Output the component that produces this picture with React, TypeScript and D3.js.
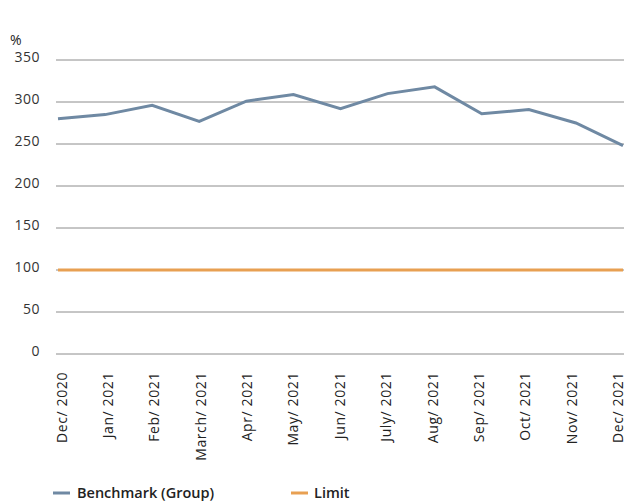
import React from 'react'
import * as d3 from 'd3'

const months = ['Dec/ 2020', 'Jan/ 2021', 'Feb/ 2021', 'March/ 2021', 'Apr/ 2021', 'May/ 2021', 'Jun/ 2021',
    'July/ 2021', 'Aug/ 2021', 'Sep/ 2021', 'Oct/ 2021', 'Nov/ 2021', 'Dec/ 2021']
const benchmark = [280, 285, 296, 277, 301, 309, 292, 310, 318, 286, 291, 275, 248]
const limit = [100, 100, 100, 100, 100, 100, 100, 100, 100, 100, 100, 100, 100]
const yTicks = [0, 50, 100, 150, 200, 250, 300, 350]

const width = 628
const height = 501
const font = '"Open Sans", sans-serif'

const App = () => {
    // points and labels sit on slightly different spacing in the original
    const x = d3.scalePoint<string>().domain(months).range([58, 623])
    const xLabel = d3.scalePoint<string>().domain(months).range([61.5, 618])
    const y = d3.scaleLinear().domain([0, 350]).range([354, 60])

    const line = d3.line<number>()
        .x((d, i) => x(months[i]) as number)
        .y(d => y(d))

    return (
        <svg width={width} height={height} style={{ position: 'absolute', left: 0, top: 0 }}>
            <text x={10} y={45} fontSize={14} fontFamily={font} fill="#222">%</text>
            {yTicks.map(t => (
                <g key={t}>
                    <line x1={56} x2={624} y1={y(t)} y2={y(t)} stroke="#8c8c8c" strokeWidth={1} />
                    <text x={40} y={y(t) + 2} textAnchor="end" fontSize={14} letterSpacing={0.5}
                          fontFamily={font} fill="#333">{t}</text>
                </g>
            ))}
            <path d={line(limit) as string} fill="none" stroke="#e8a052" strokeWidth={3} />
            <path d={line(benchmark) as string} fill="none" stroke="#6f89a3" strokeWidth={3} />
            {months.map(m => (
                <text key={m} transform={`translate(${(xLabel(m) as number) + 5}, 372) rotate(-90)`}
                      textAnchor="end" fontSize={14} letterSpacing={0.6} fontFamily={font} fill="#222">{m}</text>
            ))}
            <line x1={53} x2={70} y1={493} y2={493} stroke="#6f89a3" strokeWidth={3} />
            <text x={77} y={498} fontSize={14.5} fontWeight={600} fontFamily={font} fill="#222">Benchmark (Group)</text>
            <line x1={291} x2={308} y1={493} y2={493} stroke="#e8a052" strokeWidth={3} />
            <text x={314} y={498} fontSize={14.5} fontWeight={600} fontFamily={font} fill="#222">Limit</text>
        </svg>
    )
}

export default App
